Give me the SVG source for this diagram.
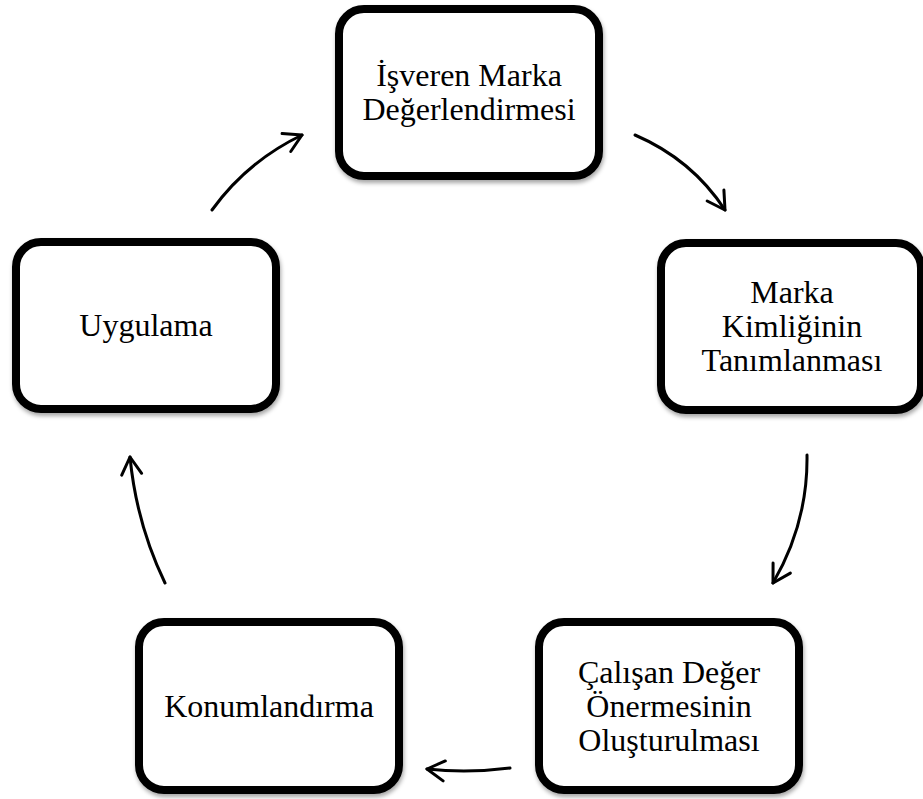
<svg xmlns="http://www.w3.org/2000/svg" width="923" height="799" viewBox="0 0 923 799">
  <style>
    .box { fill: #ffffff; stroke: #000000; stroke-width: 8; filter: url(#shadow); }
    .lbl { font-family: "Liberation Serif", "Times New Roman", serif; font-size: 32px; fill: #000000; text-anchor: middle; }
    .conn { fill: none; stroke: #000000; stroke-width: 3; stroke-linecap: round; marker-end: url(#chev); }
  </style>
  <defs>
    <filter id="shadow" x="-10%" y="-10%" width="120%" height="130%">
      <feDropShadow dx="1" dy="3" stdDeviation="2" flood-color="#000000" flood-opacity="0.35"/>
    </filter>
    <marker id="chev" markerUnits="userSpaceOnUse" markerWidth="40" markerHeight="40" refX="0" refY="0" orient="auto" overflow="visible">
      <path d="M -17.3 -10 L 0 0 L -17.3 10" fill="none" stroke="#000000" stroke-width="3" stroke-linecap="round" stroke-linejoin="round"/>
    </marker>
  </defs>
  <rect width="923" height="799" fill="#ffffff"/>

  <g id="connectors">
    <path class="conn" d="M 212 210 Q 247 161.5 302 135"/>
    <path class="conn" d="M 635 135 Q 692 159.5 725 210"/>
    <path class="conn" d="M 807 455 Q 808 523 773 583"/>
    <path class="conn" d="M 510 768 Q 467.5 773.5 427 769"/>
    <path class="conn" d="M 165 583 Q 136.5 524 130 457"/>
  </g>

  <g id="node-isveren">
    <rect class="box" x="339" y="9" width="260" height="167" rx="25" ry="25"/>
    <text class="lbl" x="469" y="86">İşveren Marka</text>
    <text class="lbl" x="469" y="120">Değerlendirmesi</text>
  </g>

  <g id="node-kimlik">
    <rect class="box" x="661" y="243" width="260" height="167" rx="25" ry="25"/>
    <text class="lbl" x="792" y="303">Marka</text>
    <text class="lbl" x="792" y="337">Kimliğinin</text>
    <text class="lbl" x="792" y="371">Tanımlanması</text>
  </g>

  <g id="node-calisan">
    <rect class="box" x="539" y="622" width="260" height="168" rx="25" ry="25"/>
    <text class="lbl" x="669" y="683">Çalışan Değer</text>
    <text class="lbl" x="669" y="717">Önermesinin</text>
    <text class="lbl" x="669" y="751">Oluşturulması</text>
  </g>

  <g id="node-konum">
    <rect class="box" x="139" y="622" width="260" height="168" rx="25" ry="25"/>
    <text class="lbl" x="269" y="717">Konumlandırma</text>
  </g>

  <g id="node-uygulama">
    <rect class="box" x="16" y="242" width="260" height="167" rx="25" ry="25"/>
    <text class="lbl" x="146" y="336">Uygulama</text>
  </g>
</svg>
